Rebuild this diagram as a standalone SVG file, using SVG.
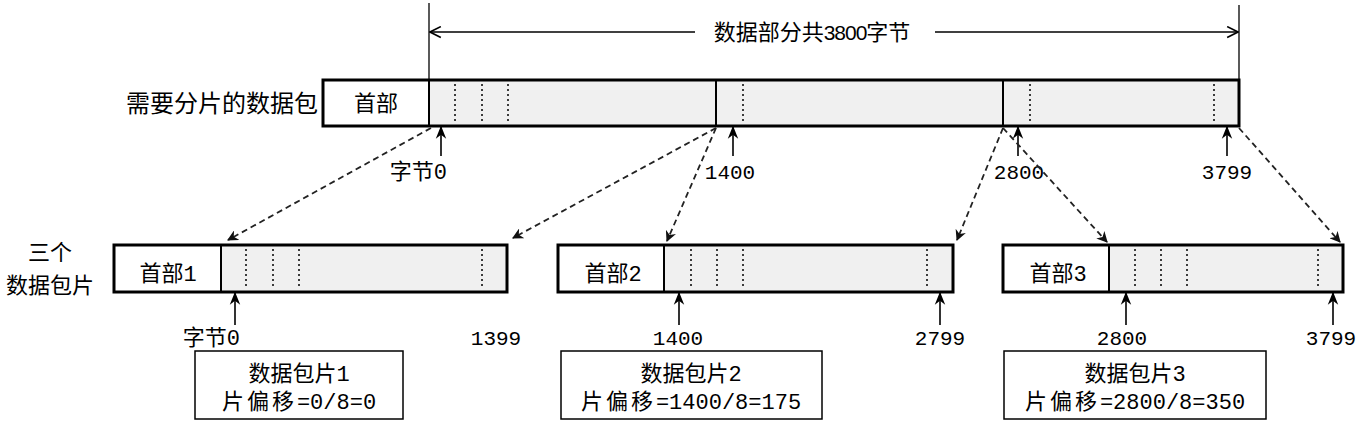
<svg xmlns="http://www.w3.org/2000/svg" width="1364" height="424" viewBox="0 0 1364 424">
<defs>
<style>
.box{fill:#fff;stroke:#000;stroke-width:3}
.data{fill:#f0f0f0;stroke:none}
.div{stroke:#000;stroke-width:2}
.dot{stroke:#000;stroke-width:1.5;stroke-dasharray:2 3}
.dash{stroke:#222;stroke-width:1.8;stroke-dasharray:6 4;fill:none}
.up{stroke:#000;stroke-width:1.6;fill:none}
.dim{stroke:#000;stroke-width:1.3;fill:none}
.cjk{font-family:"Noto Sans CJK SC","Liberation Sans",sans-serif;font-size:22px;fill:#000}
.mono{font-family:"Liberation Mono","Noto Sans CJK SC",monospace;font-size:21px;fill:#000}
.lbl{font-family:"Liberation Mono","Noto Sans CJK SC",monospace;font-size:22px;fill:#000}
.sum{fill:#fff;stroke:#000;stroke-width:1.5}
.sp{letter-spacing:3px}
</style>
<marker id="ah" viewBox="0 0 10 10" refX="9" refY="5" markerWidth="11" markerHeight="11" markerUnits="userSpaceOnUse" orient="auto"><path d="M0,0 L10,5 L0,10 L3,5 Z" fill="#111"/></marker>
<marker id="up" viewBox="0 0 10 10" refX="9" refY="5" markerWidth="13" markerHeight="13" markerUnits="userSpaceOnUse" orient="auto"><path d="M0,1 L10,5 L0,9 L3,5 Z" fill="#000"/></marker>
<marker id="open" viewBox="0 0 12 12" refX="11" refY="6" markerWidth="13" markerHeight="13" markerUnits="userSpaceOnUse" orient="auto"><path d="M1,1 L11,6 L1,11" fill="none" stroke="#000" stroke-width="1.5"/></marker>
</defs>

<g id="dimension">
<line class="dim" x1="429" y1="3" x2="429" y2="80"/>
<line class="dim" x1="1239" y1="5" x2="1239" y2="80"/>
<line class="dim" x1="695" y1="32" x2="430" y2="32" marker-end="url(#open)"/>
<line class="dim" x1="935" y1="32" x2="1238" y2="32" marker-end="url(#open)"/>
<text x="812" y="40" text-anchor="middle" style="font-family:'Noto Sans CJK SC','Liberation Sans',sans-serif;font-size:22px" fill="#000">数据部分共<tspan style="font-family:'Liberation Sans',sans-serif;font-size:21px;letter-spacing:-1px">3800</tspan>字节</text>
</g>

<g id="packet">
<text x="318" y="112" text-anchor="end" class="cjk" style="font-size:24px">需要分片的数据包</text>
<rect class="data" x="429" y="80" width="810" height="46"/>
<rect x="323" y="80" width="916" height="46" fill="none" stroke="#000" stroke-width="3"/>
<line class="div" x1="429" y1="80" x2="429" y2="126"/>
<line class="div" x1="716" y1="80" x2="716" y2="126" stroke-width="3"/>
<line class="div" x1="1003" y1="80" x2="1003" y2="126" stroke-width="3"/>
<line class="dot" x1="455" y1="84" x2="455" y2="122"/>
<line class="dot" x1="482" y1="84" x2="482" y2="122"/>
<line class="dot" x1="508" y1="84" x2="508" y2="122"/>
<line class="dot" x1="743" y1="84" x2="743" y2="122"/>
<line class="dot" x1="1030" y1="84" x2="1030" y2="122"/>
<line class="dot" x1="1214" y1="84" x2="1214" y2="122"/>
<text x="376" y="111" text-anchor="middle" class="cjk">首部</text>
<line class="up" x1="441" y1="156" x2="441" y2="127" marker-end="url(#up)"/>
<line class="up" x1="733" y1="156" x2="733" y2="127" marker-end="url(#up)"/>
<line class="up" x1="1018" y1="156" x2="1018" y2="127" marker-end="url(#up)"/>
<line class="up" x1="1227" y1="156" x2="1227" y2="127" marker-end="url(#up)"/>
<text x="447" y="179" text-anchor="end" class="lbl">字节0</text>
<text x="730" y="179" text-anchor="middle" class="mono">1400</text>
<text x="1019" y="179" text-anchor="middle" class="mono">2800</text>
<text x="1227" y="179" text-anchor="middle" class="mono">3799</text>
</g>

<g id="frag-label">
<text x="50" y="260" text-anchor="middle" class="cjk" style="font-size:22px">三个</text>
<text x="50" y="293" text-anchor="middle" class="cjk" style="font-size:22px">数据包片</text>
</g>

<g id="frag1">
<rect class="data" x="221" y="245" width="286" height="47"/>
<rect x="114" y="245" width="393" height="47" fill="none" stroke="#000" stroke-width="3"/>
<line class="div" x1="221" y1="245" x2="221" y2="292"/>
<line class="dot" x1="246" y1="249" x2="246" y2="288"/>
<line class="dot" x1="273" y1="249" x2="273" y2="288"/>
<line class="dot" x1="299" y1="249" x2="299" y2="288"/>
<line class="dot" x1="482" y1="249" x2="482" y2="288"/>
<text x="168" y="281" text-anchor="middle" class="lbl">首部1</text>
<line class="up" x1="235" y1="325" x2="235" y2="293" marker-end="url(#up)"/>
<text x="240" y="345" text-anchor="end" class="lbl">字节0</text>
<text x="496" y="345" text-anchor="middle" class="mono">1399</text>
<rect class="sum" x="195" y="351" width="208" height="68"/>
<text x="299" y="381" text-anchor="middle" class="lbl">数据包片1</text>
<text x="299" y="409" text-anchor="middle" class="lbl"><tspan class="sp">片偏移</tspan>=0/8=0</text>
</g>

<g id="frag2">
<rect class="data" x="664" y="245" width="289" height="47"/>
<rect x="558" y="245" width="395" height="47" fill="none" stroke="#000" stroke-width="3"/>
<line class="div" x1="664" y1="245" x2="664" y2="292"/>
<line class="dot" x1="691" y1="249" x2="691" y2="288"/>
<line class="dot" x1="717" y1="249" x2="717" y2="288"/>
<line class="dot" x1="743" y1="249" x2="743" y2="288"/>
<line class="dot" x1="927" y1="249" x2="927" y2="288"/>
<text x="613" y="281" text-anchor="middle" class="lbl">首部2</text>
<line class="up" x1="679" y1="325" x2="679" y2="293" marker-end="url(#up)"/>
<line class="up" x1="940" y1="325" x2="940" y2="293" marker-end="url(#up)"/>
<text x="678" y="345" text-anchor="middle" class="mono">1400</text>
<text x="940" y="345" text-anchor="middle" class="mono">2799</text>
<rect class="sum" x="561" y="351" width="261" height="68"/>
<text x="691" y="381" text-anchor="middle" class="lbl">数据包片2</text>
<text x="691" y="409" text-anchor="middle" class="lbl"><tspan class="sp">片偏移</tspan>=1400/8=175</text>
</g>

<g id="frag3">
<rect class="data" x="1109" y="245" width="234" height="47"/>
<rect x="1003" y="245" width="340" height="47" fill="none" stroke="#000" stroke-width="3"/>
<line class="div" x1="1109" y1="245" x2="1109" y2="292"/>
<line class="dot" x1="1135" y1="249" x2="1135" y2="288"/>
<line class="dot" x1="1161" y1="249" x2="1161" y2="288"/>
<line class="dot" x1="1187" y1="249" x2="1187" y2="288"/>
<line class="dot" x1="1318" y1="249" x2="1318" y2="288"/>
<text x="1058" y="281" text-anchor="middle" class="lbl">首部3</text>
<line class="up" x1="1126" y1="325" x2="1126" y2="293" marker-end="url(#up)"/>
<line class="up" x1="1333" y1="325" x2="1333" y2="293" marker-end="url(#up)"/>
<text x="1122" y="345" text-anchor="middle" class="mono">2800</text>
<text x="1331" y="345" text-anchor="middle" class="mono">3799</text>
<rect class="sum" x="1004" y="351" width="262" height="68"/>
<text x="1135" y="381" text-anchor="middle" class="lbl">数据包片3</text>
<text x="1135" y="409" text-anchor="middle" class="lbl"><tspan class="sp">片偏移</tspan>=2800/8=350</text>
</g>

<g id="connectors">
<line class="dash" x1="431" y1="128" x2="228" y2="240" marker-end="url(#ah)"/>
<line class="dash" x1="716" y1="128" x2="513" y2="238" marker-end="url(#ah)"/>
<line class="dash" x1="716" y1="128" x2="667" y2="241" marker-end="url(#ah)"/>
<line class="dash" x1="1003" y1="128" x2="957" y2="240" marker-end="url(#ah)"/>
<line class="dash" x1="1003" y1="128" x2="1107" y2="242" marker-end="url(#ah)"/>
<line class="dash" x1="1239" y1="128" x2="1340" y2="242" marker-end="url(#ah)"/>
</g>
</svg>
